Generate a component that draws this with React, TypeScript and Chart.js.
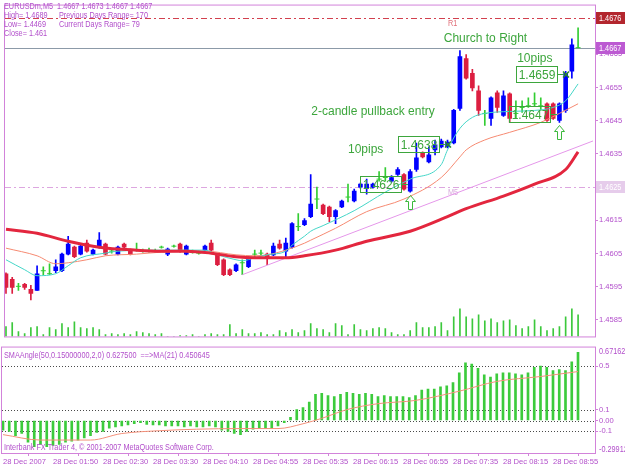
import React, { useEffect, useRef } from 'react';
import { Chart, registerables } from 'chart.js';

Chart.register(...registerables);

// ---------------- data ----------------
const TIME_TICK_BARS = [0, 8, 16, 24, 32, 40, 48, 56, 64, 72, 80, 88];
const TIME_LABELS = [
  '28 Dec 2007', '28 Dec 01:50', '28 Dec 02:30', '28 Dec 03:30', '28 Dec 04:10', '28 Dec 04:55',
  '28 Dec 05:35', '28 Dec 06:15', '28 Dec 06:55', '28 Dec 07:35', '28 Dec 08:15', '28 Dec 08:55',
];

const OPEN = [
  1.45989, 1.45972, 1.45951, 1.45957, 1.45942, 1.45939, 1.45998, 1.45989, 1.45998, 1.45998,
  1.46048, 1.46069, 1.46048, 1.46081, 1.46048, 1.46069, 1.46078, 1.46057, 1.46048, 1.46078,
  1.46060, 1.46060, 1.46057, 1.46057, 1.46057, 1.46069, 1.46048, 1.46072, 1.46078, 1.46048,
  1.46054, 1.46051, 1.46060, 1.46081, 1.46046, 1.46031, 1.46001, 1.45998, 1.46022, 1.46010,
  1.46048, 1.46051, 1.46048, 1.46046, 1.46078, 1.46057, 1.46069, 1.46131, 1.46137, 1.46161,
  1.46214, 1.46196, 1.46190, 1.46161, 1.46190, 1.46220, 1.46208, 1.46250, 1.46247, 1.46250,
  1.46274, 1.46279, 1.46268, 1.46288, 1.46288, 1.46238, 1.46303, 1.46353, 1.46326, 1.46362,
  1.46371, 1.46371, 1.46383, 1.46487, 1.46637, 1.46593, 1.46540, 1.46472, 1.46457, 1.46534,
  1.46466, 1.46531, 1.46472, 1.46490, 1.46495, 1.46501, 1.46495, 1.46501, 1.46501, 1.46451,
  1.46481, 1.46599, 1.4667,
];
const HIGH = [
  1.45992, 1.45978, 1.45960, 1.45960, 1.45954, 1.46013, 1.46010, 1.46019, 1.46031, 1.46051,
  1.46102, 1.46072, 1.46075, 1.46090, 1.46063, 1.46113, 1.46081, 1.46063, 1.46072, 1.46081,
  1.46063, 1.46081, 1.46063, 1.46066, 1.46063, 1.46072, 1.46066, 1.46075, 1.46081, 1.46075,
  1.46060, 1.46057, 1.46075, 1.46090, 1.46048, 1.46034, 1.46004, 1.46019, 1.46031, 1.46040,
  1.46060, 1.46060, 1.46051, 1.46081, 1.46090, 1.46096, 1.46143, 1.46170, 1.46155, 1.46288,
  1.46250, 1.46199, 1.46193, 1.46182, 1.46211, 1.46259, 1.46244, 1.46262, 1.46274, 1.46262,
  1.46297, 1.46309, 1.46285, 1.46309, 1.46291, 1.46303, 1.46383, 1.46356, 1.46371, 1.46392,
  1.46395, 1.46392, 1.46484, 1.46661, 1.46649, 1.46605, 1.46555, 1.46481, 1.46522, 1.46540,
  1.46540, 1.46534, 1.46510, 1.46510, 1.46519, 1.46534, 1.46519, 1.46504, 1.46504, 1.46504,
  1.46599, 1.46697, 1.4673,
];
const LOW = [
  1.45930, 1.45930, 1.45939, 1.45942, 1.45910, 1.45939, 1.45986, 1.45986, 1.45992, 1.45995,
  1.46046, 1.46037, 1.46046, 1.46054, 1.46046, 1.46066, 1.46046, 1.46051, 1.46046, 1.46066,
  1.46046, 1.46057, 1.46054, 1.46054, 1.46054, 1.46066, 1.46043, 1.46069, 1.46054, 1.46046,
  1.46051, 1.46048, 1.46057, 1.46057, 1.46013, 1.45983, 1.45983, 1.45995, 1.45986, 1.46007,
  1.46037, 1.46043, 1.46016, 1.46043, 1.46063, 1.46037, 1.46066, 1.46119, 1.46134, 1.46158,
  1.46185, 1.46167, 1.46146, 1.46140, 1.46188, 1.46205, 1.46205, 1.46247, 1.46229, 1.46247,
  1.46268, 1.46268, 1.46265, 1.46285, 1.46241, 1.46235, 1.46297, 1.46338, 1.46323, 1.46347,
  1.46368, 1.46368, 1.46380, 1.46481, 1.46575, 1.46540, 1.46466, 1.46436, 1.46436, 1.46475,
  1.46463, 1.46445, 1.46457, 1.46475, 1.46490, 1.46495, 1.46481, 1.46448, 1.46454, 1.46445,
  1.46475, 1.46578, 1.4667,
];
const CLOSE = [
  1.45948, 1.45948, 1.45951, 1.45948, 1.45930, 1.45989, 1.45998, 1.45989, 1.46010, 1.46048,
  1.46078, 1.46040, 1.46072, 1.46057, 1.46060, 1.46090, 1.46048, 1.46057, 1.46069, 1.46069,
  1.46048, 1.46060, 1.46057, 1.46057, 1.46057, 1.46069, 1.46063, 1.46072, 1.46057, 1.46072,
  1.46054, 1.46051, 1.46072, 1.46060, 1.46016, 1.45986, 1.45986, 1.46016, 1.46022, 1.46037,
  1.46048, 1.46051, 1.46037, 1.46072, 1.46066, 1.46081, 1.46140, 1.46131, 1.46149, 1.46199,
  1.46214, 1.46170, 1.46161, 1.46179, 1.46208, 1.46220, 1.46238, 1.46259, 1.46259, 1.46259,
  1.46274, 1.46279, 1.46279, 1.46303, 1.46244, 1.46297, 1.46338, 1.46341, 1.46347, 1.46377,
  1.46389, 1.46386, 1.46481, 1.46643, 1.46578, 1.46549, 1.46481, 1.46472, 1.46519, 1.46490,
  1.46525, 1.46457, 1.46472, 1.46490, 1.46495, 1.46501, 1.46495, 1.46451, 1.46457, 1.46501,
  1.46593, 1.46679, 1.4667,
];
const VOLUME = [
  10, 14, 5, 3, 9, 10, 2, 9, 7, 13,
  9, 15, 9, 8, 9, 7, 2, 3, 2, 3,
  2, 5, 4, 3, 2, 3, 0, 0, 1, 1,
  2, 0, 2, 3, 2, 2, 12, 3, 7, 3,
  3, 4, 2, 2, 6, 4, 7, 4, 6, 13,
  8, 7, 4, 13, 11, 2, 12, 7, 6, 8,
  9, 8, 4, 2, 2, 6, 14, 9, 9, 10,
  14, 6, 20, 28, 20, 18, 22, 16, 18, 14,
  16, 17, 11, 8, 10, 17, 10, 6, 8, 10,
  20, 28, 22,
];

// moving averages: [bar, price]
const MA_SLOW = [
  [0, 1.46123], [5, 1.46111], [10, 1.46087], [15, 1.46069], [21, 1.4606], [25, 1.46057], [29, 1.46057],
  [33, 1.46051], [37, 1.4604], [40, 1.46037], [45, 1.46037], [48, 1.46043], [53, 1.4606], [58, 1.46087],
  [65, 1.46117], [71, 1.46161], [74, 1.46185], [80, 1.46223], [85, 1.46259], [90, 1.46303], [92, 1.46356],
];
const MA_FAST = [
  [0, 1.46031], [3, 1.46001], [5, 1.45983], [8, 1.45989], [10, 1.46013], [12, 1.46037], [16, 1.46051],
  [18, 1.46057], [25, 1.4606], [32, 1.4606], [34, 1.46046], [37, 1.46031], [38, 1.46028], [40, 1.46037],
  [42, 1.46046], [45, 1.46057], [46, 1.46075], [48, 1.46102], [49, 1.46117], [51, 1.46134], [56, 1.46179],
  [61, 1.46235], [65, 1.46274], [70, 1.46318], [71, 1.46362], [73, 1.46427], [75, 1.4646], [77, 1.46472],
  [81, 1.46478], [85, 1.46481], [88, 1.4649], [90, 1.4651], [92, 1.46561],
];
const MA_MID = [
  [0, 1.46066], [5, 1.46043], [8, 1.46019], [10, 1.46022], [13, 1.46031], [16, 1.46043], [21, 1.46048],
  [25, 1.46054], [32, 1.46057], [37, 1.46046], [40, 1.46043], [42, 1.46046], [45, 1.4606], [48, 1.46081],
  [49, 1.4609], [53, 1.46126], [58, 1.46176], [64, 1.46214], [70, 1.46279], [73, 1.46341], [74, 1.46362],
  [77, 1.46392], [81, 1.46415], [86, 1.46445], [89, 1.46472], [92, 1.46501],
];
const TRENDLINE = [[38, 1.45986], [94.4, 1.46389]];

const PRICE_TICKS = [1.4585, 1.4595, 1.4605, 1.4615, 1.4625, 1.4635, 1.4645, 1.4655, 1.4665, 1.4675];
const R1_PRICE = 1.4676;
const BID_PRICE = 1.4667;
const M5_LINE_PRICE = 1.4625;

const HEADER_LEFT = ['EURUSDm,M5  1.4667 1.4673 1.4667 1.4667', 'High= 1.4689', 'Low= 1.4469', 'Close= 1.461'];
const HEADER_RIGHT = ['', 'Previous Days Range= 170', 'Current Days Range= 79', ''];

const NOTE_TEXTS = ['Church to Right', '10pips', '2-candle pullback entry', '10pips'];
const NOTE_BARS = [70.4, 82.2, 49.1, 55.0];
const NOTE_PRICES = [1.46697, 1.46637, 1.46478, 1.46362];

const TAG_VALUES = [1.4626, 1.4638, 1.4647, 1.4659];
const TAG_BARS = [65, 71, 89, 90];
const TAG_MARKS = ['arrow', 'cross', 'arrow', 'cross'];

// SMAAngle indicator
const SMA_ANGLE = [
  -0.09, -0.10, -0.14, -0.12, -0.20, -0.24, -0.22, -0.24, -0.23, -0.22,
  -0.20, -0.19, -0.18, -0.16, -0.14, -0.11, -0.10, -0.07, -0.06, -0.05,
  -0.04, -0.03, -0.02, -0.035, -0.04, -0.04, -0.05, -0.05, -0.05, -0.06,
  -0.05, -0.06, -0.06, -0.05, -0.06, -0.09, -0.10, -0.12, -0.13, -0.10,
  -0.08, -0.07, -0.07, -0.07, -0.05, -0.02, 0.03, 0.10, 0.12, 0.17,
  0.24, 0.25, 0.23, 0.22, 0.24, 0.26, 0.25, 0.24, 0.25, 0.24,
  0.22, 0.23, 0.22, 0.22, 0.22, 0.21, 0.23, 0.28, 0.29, 0.29,
  0.31, 0.32, 0.35, 0.44, 0.53, 0.52, 0.48, 0.42, 0.40, 0.43,
  0.44, 0.44, 0.43, 0.42, 0.44, 0.49, 0.50, 0.49, 0.46, 0.47,
  0.46, 0.54, 0.6275,
];
const SMA_ANGLE_MA = [
  [0, -0.13], [6, -0.18], [14, -0.18], [19, -0.12], [25, -0.094], [31, -0.08], [38, -0.074], [44, -0.074],
  [48, -0.03], [51, 0.02], [55, 0.10], [60, 0.155], [66, 0.185], [73, 0.27], [79, 0.36], [86, 0.405], [92, 0.450645],
];
const IND_LEVELS = [0.5, 0.1, 0, -0.1];
const IND_LEVEL_LABELS = ['0.5', '0.1', '0.00', '-0.1'];
const IND_MAX = 0.671625;
const IND_MIN = -0.29912;
const IND_TITLE = 'SMAAngle(50,0.15000000,2,0) 0.627500  ==>MA(21) 0.450645';
const COPYRIGHT = 'Interbank FX Trader 4, \u00a9 2001-2007 MetaQuotes Software Corp.';

// ---------------- styles ----------------
const SMALL_FAMILY = "'Liberation Sans', Arial, sans-serif";
const SMALL = `9px ${SMALL_FAMILY}`;
const CONDENSE = 0.81;
const BIG = "12px 'Liberation Sans', Arial, sans-serif";
const PURPLE = '#B24FCB';
const BORDER = '#D283DA';
const NOTE_GREEN = '#3DA63D';
const BULL = '#0000FF';
const BEAR = '#DC1E40';
const DOJI = '#32CD32';
const X_MIN = -0.16;
const X_MAX = 94.72;

const xy = (pts: number[][]) => pts.map(([x, y]) => ({ x, y }));

// small MT4-style narrow text
function smallText(ctx: CanvasRenderingContext2D, text: string, x: number, y: number, color: string) {
  ctx.save();
  ctx.font = SMALL;
  ctx.fillStyle = color;
  ctx.textAlign = 'left';
  ctx.textBaseline = 'middle';
  ctx.translate(x, y);
  ctx.scale(CONDENSE, 1);
  ctx.fillText(text, 0, 0);
  ctx.restore();
}

function drawUpArrow(ctx: CanvasRenderingContext2D, cx: number, top: number) {
  ctx.beginPath();
  ctx.moveTo(cx, top);
  ctx.lineTo(cx + 5, top + 6);
  ctx.lineTo(cx + 2, top + 6);
  ctx.lineTo(cx + 2, top + 14);
  ctx.lineTo(cx - 2, top + 14);
  ctx.lineTo(cx - 2, top + 6);
  ctx.lineTo(cx - 5, top + 6);
  ctx.closePath();
  ctx.stroke();
}

const mainDecor = {
  id: 'mainDecor',
  beforeDatasetsDraw(chart: any) {
    const { ctx, chartArea: a, scales } = chart;
    const ys = scales.y;
    ctx.save();
    ctx.beginPath();
    ctx.rect(a.left, a.top, a.right - a.left, a.bottom - a.top);
    ctx.clip();
    const lines = [
      { v: M5_LINE_PRICE, color: '#DDA6E0', dash: [6, 3, 2, 3], label: 'M5', labelColor: '#D8AADD' },
      { v: R1_PRICE, color: '#D2404E', dash: [6, 3, 2, 3], label: 'R1', labelColor: '#E0707A' },
      { v: BID_PRICE, color: '#8C9AA8', dash: [] as number[], label: '', labelColor: '' },
    ];
    ctx.lineWidth = 1;
    for (const l of lines) {
      const py = Math.round(ys.getPixelForValue(l.v)) + 0.5;
      ctx.strokeStyle = l.color;
      ctx.setLineDash(l.dash);
      ctx.beginPath();
      ctx.moveTo(a.left, py);
      ctx.lineTo(a.right, py);
      ctx.stroke();
      if (l.label) smallText(ctx, l.label, 448, py + 5, l.labelColor);
    }
    ctx.restore();
  },
  afterDatasetsDraw(chart: any) {
    const { ctx, scales } = chart;
    const xs = scales.x;
    const ys = scales.y;
    ctx.save();
    ctx.font = BIG;
    ctx.fillStyle = NOTE_GREEN;
    ctx.textAlign = 'left';
    ctx.textBaseline = 'middle';
    NOTE_TEXTS.forEach((t, i) => {
      ctx.fillText(t, xs.getPixelForValue(NOTE_BARS[i]), ys.getPixelForValue(NOTE_PRICES[i]));
    });
    ctx.lineWidth = 1;
    for (let k = 0; k < TAG_VALUES.length; k++) {
      const v = TAG_VALUES[k];
      const bar = TAG_BARS[k];
      const ax = Math.round(xs.getPixelForValue(bar));
      const py = Math.round(ys.getPixelForValue(v)) + 0.5;
      const text = v.toFixed(4);
      ctx.font = BIG;
      const w = Math.ceil(ctx.measureText(text).width) + 4;
      const right = ax - 8.5;
      ctx.strokeStyle = NOTE_GREEN;
      ctx.setLineDash([]);
      ctx.strokeRect(right - w, py - 8, w, 16);
      ctx.fillStyle = NOTE_GREEN;
      ctx.textAlign = 'center';
      ctx.textBaseline = 'middle';
      ctx.fillText(text, right - w / 2, py + 1);
      ctx.beginPath();
      ctx.moveTo(right, py);
      ctx.lineTo(ax - 2, py);
      ctx.stroke();
      if (TAG_MARKS[k] === 'cross') {
        ctx.strokeStyle = '#2A8A2A';
        ctx.lineWidth = 1.5;
        ctx.beginPath();
        ctx.moveTo(ax - 3, py - 3);
        ctx.lineTo(ax + 3, py + 3);
        ctx.moveTo(ax + 3, py - 3);
        ctx.lineTo(ax - 3, py + 3);
        ctx.stroke();
        ctx.lineWidth = 1;
      } else {
        ctx.strokeStyle = '#3CB83C';
        drawUpArrow(ctx, ax + 0.5, Math.round(ys.getPixelForValue(LOW[bar])) + 3.5);
      }
    }
    ctx.restore();
  },
  afterDraw(chart: any) {
    const { ctx, chartArea: a, scales } = chart;
    const ys = scales.y;
    ctx.save();
    ctx.strokeStyle = BORDER;
    ctx.lineWidth = 1;
    ctx.strokeRect(a.left - 0.5, a.top - 0.5, a.right - a.left + 1, a.bottom - a.top + 1);
    // axis price tags
    const tags = [
      { v: M5_LINE_PRICE, bg: '#E6CCEB', fg: '#FFFFFF' },
      { v: R1_PRICE, bg: '#B3262E', fg: '#FFFFFF' },
      { v: BID_PRICE, bg: '#BC5AD2', fg: '#FFFFFF' },
    ];
    for (const t of tags) {
      const py = Math.round(ys.getPixelForValue(t.v));
      ctx.fillStyle = t.bg;
      ctx.fillRect(a.right + 1, py - 6, 30, 12);
      smallText(ctx, t.v.toFixed(4), a.right + 4, py + 0.5, t.fg);
    }
    // header
    HEADER_LEFT.forEach((t, i) => smallText(ctx, t, 4, 7 + 9 * i, PURPLE));
    HEADER_RIGHT.forEach((t, i) => {
      if (t) smallText(ctx, t, 59, 7 + 9 * i, PURPLE);
    });
    ctx.restore();
  },
};

const indDecor = {
  id: 'indDecor',
  beforeDatasetsDraw(chart: any) {
    const { ctx, chartArea: a, scales } = chart;
    const ys = scales.y;
    ctx.save();
    ctx.strokeStyle = '#4A4A4A';
    ctx.lineWidth = 1;
    ctx.setLineDash([1, 2]);
    for (const v of IND_LEVELS) {
      const py = Math.round(ys.getPixelForValue(v)) + 0.5;
      ctx.beginPath();
      ctx.moveTo(a.left, py);
      ctx.lineTo(a.right, py);
      ctx.stroke();
    }
    ctx.restore();
  },
  afterDraw(chart: any) {
    const { ctx, chartArea: a } = chart;
    ctx.save();
    ctx.strokeStyle = BORDER;
    ctx.lineWidth = 1;
    ctx.strokeRect(a.left - 0.5, a.top - 0.5, a.right - a.left + 1, a.bottom - a.top + 1);
    smallText(ctx, IND_TITLE, 4, a.top + 8, PURPLE);
    smallText(ctx, COPYRIGHT, 4, a.bottom - 5, PURPLE);
    smallText(ctx, String(IND_MAX), a.right + 4, a.top + 4, PURPLE);
    smallText(ctx, String(IND_MIN), a.right + 4, a.bottom - 3, PURPLE);
    ctx.restore();
  },
};

export default function App() {
  const mainRef = useRef<HTMLCanvasElement | null>(null);
  const indRef = useRef<HTMLCanvasElement | null>(null);

  useEffect(() => {
    document.body.style.margin = '0';
    const idx = CLOSE.map((_, i) => i);
    const isDoji = (i: number) => OPEN[i] === CLOSE[i];
    const candleColor = (i: number) => (isDoji(i) ? DOJI : CLOSE[i] > OPEN[i] ? BULL : BEAR);
    const bodyIdx = idx.filter((i) => !isDoji(i));
    const dojiIdx = idx.filter(isDoji);
    const tickFont = { family: SMALL_FAMILY, size: 7.6 };

    const main = new Chart(mainRef.current as HTMLCanvasElement, {
      type: 'bar',
      data: {
        datasets: [
          { type: 'line', data: xy(MA_SLOW), borderColor: '#E3263E', borderWidth: 3, pointRadius: 0, cubicInterpolationMode: 'monotone', order: 1 } as any,
          { type: 'line', data: xy(MA_FAST), borderColor: '#45D6C8', borderWidth: 1, pointRadius: 0, cubicInterpolationMode: 'monotone', order: 2 } as any,
          { type: 'line', data: xy(MA_MID), borderColor: '#F68A72', borderWidth: 1, pointRadius: 0, cubicInterpolationMode: 'monotone', order: 2 } as any,
          { type: 'line', data: xy(TRENDLINE), borderColor: '#E597EA', borderWidth: 1, pointRadius: 0, order: 3 } as any,
          {
            type: 'line', data: dojiIdx.map((i) => ({ x: i, y: CLOSE[i] })), showLine: false,
            pointStyle: 'line', pointRadius: 2.5, pointBorderColor: DOJI, pointBorderWidth: 1, order: 5,
          } as any,
          {
            type: 'bar', data: bodyIdx.map((i) => ({ x: i, y: [OPEN[i], CLOSE[i]] })),
            backgroundColor: bodyIdx.map(candleColor), barThickness: 4, grouped: false, borderWidth: 0, order: 6,
          } as any,
          {
            type: 'bar', data: idx.map((i) => ({ x: i, y: [LOW[i], HIGH[i]] })),
            backgroundColor: idx.map(candleColor), barThickness: 1, grouped: false, borderWidth: 0, order: 7,
          } as any,
          {
            type: 'bar', yAxisID: 'yVol', data: idx.map((i) => ({ x: i, y: VOLUME[i] })),
            backgroundColor: '#3CC83C', barThickness: 1, grouped: false, borderWidth: 0, order: 8,
          } as any,
        ],
      },
      options: {
        responsive: false,
        maintainAspectRatio: false,
        animation: false,
        events: [],
        layout: { padding: { left: 2, top: 3, right: 0, bottom: 2 } },
        plugins: { legend: { display: false }, tooltip: { enabled: false } },
        scales: {
          x: { type: 'linear', min: X_MIN, max: X_MAX, display: false, offset: false },
          y: {
            position: 'right', min: 1.458, max: 1.46797, bounds: 'data',
            afterFit: (s: any) => { s.width = 30; },
            afterBuildTicks: (s: any) => { s.ticks = PRICE_TICKS.map((v) => ({ value: v })); },
            ticks: { callback: (v: any) => Number(v).toFixed(4), color: PURPLE, font: tickFont, padding: 1, autoSkip: false },
            grid: { drawOnChartArea: false, drawTicks: true, tickLength: 3, color: BORDER },
            border: { display: false },
          },
          yVol: { display: false, min: 0, max: 337 },
        },
      } as any,
      plugins: [mainDecor],
    });

    const ind = new Chart(indRef.current as HTMLCanvasElement, {
      type: 'bar',
      data: {
        datasets: [
          { type: 'line', data: xy(SMA_ANGLE_MA), borderColor: '#F4907A', borderWidth: 1, pointRadius: 0, cubicInterpolationMode: 'monotone', order: 1 } as any,
          {
            type: 'bar', data: idx.map((i) => ({ x: i, y: SMA_ANGLE[i] })),
            backgroundColor: '#3CCB3C', barThickness: 2, grouped: false, borderWidth: 0, order: 2,
          } as any,
        ],
      },
      options: {
        responsive: false,
        maintainAspectRatio: false,
        animation: false,
        events: [],
        layout: { padding: { left: 2, top: 1, right: 0, bottom: 0 } },
        plugins: { legend: { display: false }, tooltip: { enabled: false } },
        scales: {
          x: {
            type: 'linear', min: X_MIN, max: X_MAX, offset: false,
            afterFit: (s: any) => { s.height = 16; },
            afterBuildTicks: (s: any) => { s.ticks = TIME_TICK_BARS.map((v) => ({ value: v })); },
            ticks: {
              callback: (_v: any, i: number) => TIME_LABELS[i] ?? '',
              align: 'start', maxRotation: 0, autoSkip: false, color: PURPLE, font: tickFont, padding: 1,
            },
            grid: { drawOnChartArea: false, drawTicks: true, tickLength: 3, color: BORDER },
            border: { display: false },
          },
          y: {
            position: 'right', min: IND_MIN, max: IND_MAX, bounds: 'data',
            afterFit: (s: any) => { s.width = 30; },
            afterBuildTicks: (s: any) => { s.ticks = IND_LEVELS.map((v) => ({ value: v })); },
            ticks: { callback: (_v: any, i: number) => IND_LEVEL_LABELS[i] ?? '', color: PURPLE, font: tickFont, padding: 1, autoSkip: false },
            grid: { drawOnChartArea: false, drawTicks: true, tickLength: 3, color: BORDER },
            border: { display: false },
          },
        },
      } as any,
      plugins: [indDecor],
    });

    return () => {
      main.destroy();
      ind.destroy();
    };
  }, []);

  return (
    <div style={{ position: 'fixed', left: 0, top: 0, width: 625, height: 469, background: '#ffffff' }}>
      <canvas ref={mainRef} width={625} height={342} style={{ position: 'absolute', left: 0, top: 0, width: 625, height: 342 }} />
      <canvas ref={indRef} width={625} height={127} style={{ position: 'absolute', left: 0, top: 342, width: 625, height: 127 }} />
    </div>
  );
}
